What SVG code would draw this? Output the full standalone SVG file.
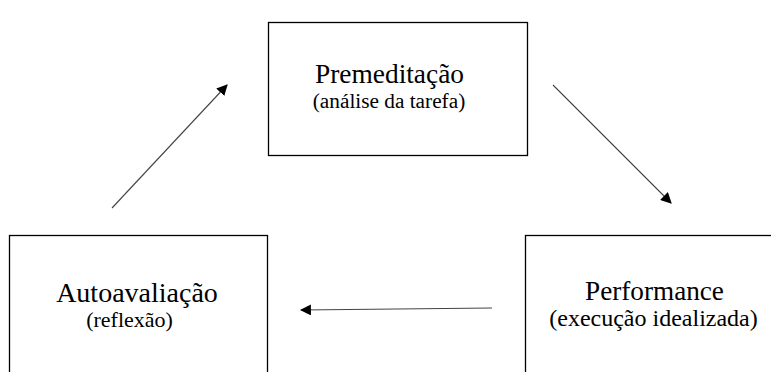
<svg xmlns="http://www.w3.org/2000/svg" width="771" height="372" viewBox="0 0 771 372">
  <style>
    .box { fill: #ffffff; stroke: #000000; stroke-width: 1.3; }
    .conn { stroke: #444444; stroke-width: 1.1; fill: none; marker-end: url(#arr); }
  </style>
  <defs>
    <marker id="arr" viewBox="0 0 10 10" refX="9" refY="5" markerWidth="11" markerHeight="11" markerUnits="userSpaceOnUse" orient="auto">
      <path d="M0,0 L10,5 L0,10 z" fill="#000000"/>
    </marker>
  </defs>
  <rect width="771" height="372" fill="#ffffff"/>
  <g id="node-premeditacao" font-family="Liberation Serif, serif" text-anchor="middle" fill="#000000">
    <rect class="box" x="268.5" y="22.5" width="259" height="133"/>
    <text x="389.5" y="83" font-size="27.4">Premeditação</text>
    <text x="389" y="108" font-size="21.3">(análise da tarefa)</text>
  </g>
  <g id="node-autoavaliacao" font-family="Liberation Serif, serif" text-anchor="middle" fill="#000000">
    <rect class="box" x="9.5" y="235.5" width="258" height="150"/>
    <text x="137" y="302" font-size="28">Autoavaliação</text>
    <text x="129.5" y="327" font-size="22">(reflexão)</text>
  </g>
  <g id="node-performance" font-family="Liberation Serif, serif" text-anchor="middle" fill="#000000">
    <rect class="box" x="525.5" y="235.5" width="260" height="150"/>
    <text x="654.5" y="300" font-size="27.2">Performance</text>
    <text x="653.5" y="326" font-size="24">(execução idealizada)</text>
  </g>
  <g id="connectors">
    <line class="conn" x1="553" y1="85" x2="671" y2="203"/>
    <line class="conn" x1="492" y1="308" x2="301" y2="310"/>
    <line class="conn" x1="112" y1="208" x2="227" y2="85"/>
  </g>
</svg>
